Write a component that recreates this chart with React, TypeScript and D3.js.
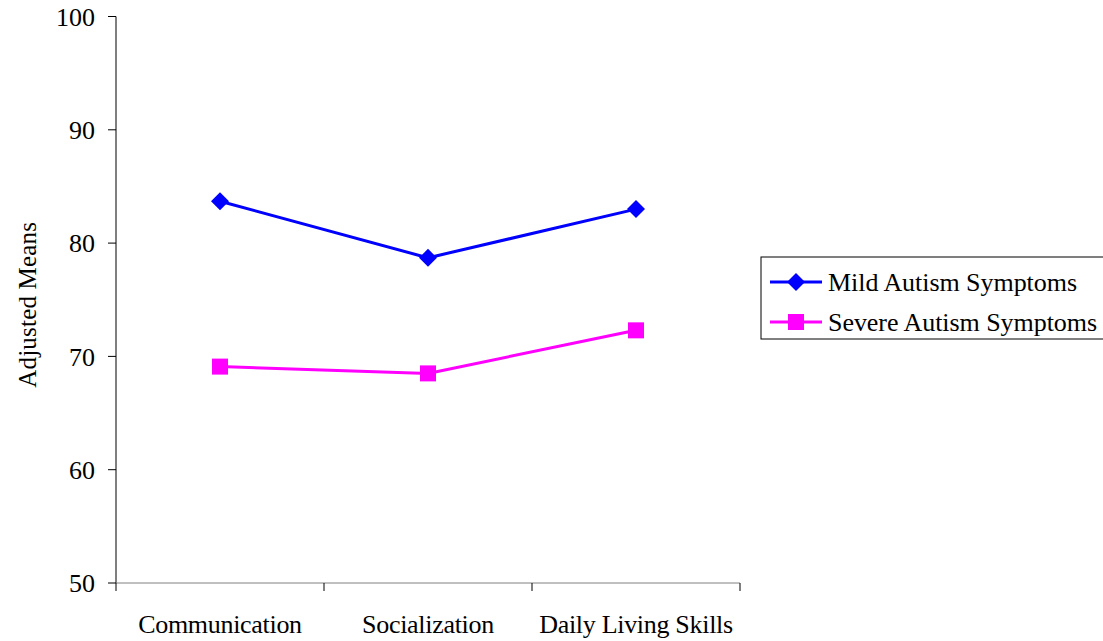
import * as d3 from "d3";

const categories = ["Communication", "Socialization", "Daily Living Skills"];
const mildValues = [83.7, 78.7, 83.0];
const severeValues = [69.1, 68.5, 72.3];
const yTicks = [50, 60, 70, 80, 90, 100];
const seriesNames = ["Mild Autism Symptoms", "Severe Autism Symptoms"];

const W = 1103;
const H = 641;
const FONT = "'Liberation Serif', 'Times New Roman', serif";

export default function App() {
  const left = 116;
  const right = 740;
  const top = 16.5;
  const bottom = 583;

  const x = d3.scaleBand<string>().domain(categories).range([left, right]).padding(0);
  const y = d3.scaleLinear().domain([50, 100]).range([bottom, top]);

  const line = d3
    .line<number>()
    .x((_, i) => x(categories[i])! + x.bandwidth() / 2)
    .y((d) => y(d));

  const diamond = (cx: number, cy: number, r: number) =>
    `M${cx},${cy - r}L${cx + r},${cy}L${cx},${cy + r}L${cx - r},${cy}Z`;

  const boundaries = [...categories.map((c) => x(c)!), right];

  return (
    <svg
      width={W}
      height={H}
      style={{ position: "absolute", left: 0, top: 0, background: "#fff" }}
      fontFamily={FONT}
    >
      {/* y axis */}
      <line x1={left} x2={left} y1={top} y2={bottom} stroke="#000" strokeWidth={1} />
      {yTicks.map((t) => (
        <g key={t}>
          <line x1={left - 8} x2={left} y1={y(t)} y2={y(t)} stroke="#000" />
          <text x={left - 21} y={y(t)} dy="0.35em" textAnchor="end" fontSize={26}>
            {t}
          </text>
        </g>
      ))}
      <text
        transform={`translate(27,${(top + bottom) / 2 + 5}) rotate(-90)`}
        textAnchor="middle"
        fontSize={25}
        letterSpacing={0.2}
        dy="0.35em"
      >
        Adjusted Means
      </text>

      {/* x axis */}
      <line x1={left} x2={right} y1={bottom} y2={bottom} stroke="#808080" strokeWidth={1} />
      {boundaries.map((b, i) => (
        <line key={i} x1={b} x2={b} y1={bottom} y2={bottom + 8} stroke="#000" />
      ))}
      {categories.map((c) => (
        <text
          key={c}
          x={x(c)! + x.bandwidth() / 2}
          y={633}
          textAnchor="middle"
          fontSize={26}
          letterSpacing={-0.3}
        >
          {c}
        </text>
      ))}

      {/* series */}
      <path d={line(mildValues)!} fill="none" stroke="#0000FF" strokeWidth={3} />
      <path d={line(severeValues)!} fill="none" stroke="#FF00FF" strokeWidth={3} />
      {mildValues.map((v, i) => (
        <path
          key={i}
          d={diamond(x(categories[i])! + x.bandwidth() / 2, y(v), 9)}
          fill="#0000FF"
        />
      ))}
      {severeValues.map((v, i) => (
        <rect
          key={i}
          x={x(categories[i])! + x.bandwidth() / 2 - 8}
          y={y(v) - 8}
          width={16}
          height={16}
          fill="#FF00FF"
        />
      ))}

      {/* legend */}
      <rect x={761} y={257} width={350} height={82} fill="#fff" stroke="#000" strokeWidth={1} />
      {seriesNames.map((name, i) => {
        const ly = 282 + i * 40;
        const color = i === 0 ? "#0000FF" : "#FF00FF";
        return (
          <g key={name}>
            <line x1={770} x2={822} y1={ly} y2={ly} stroke={color} strokeWidth={3} />
            {i === 0 ? (
              <path d={diamond(796, ly, 9)} fill={color} />
            ) : (
              <rect x={788} y={ly - 8} width={16} height={16} fill={color} />
            )}
            <text x={828} y={ly} dy="0.35em" fontSize={26} letterSpacing={-0.05}>
              {name}
            </text>
          </g>
        );
      })}
    </svg>
  );
}
